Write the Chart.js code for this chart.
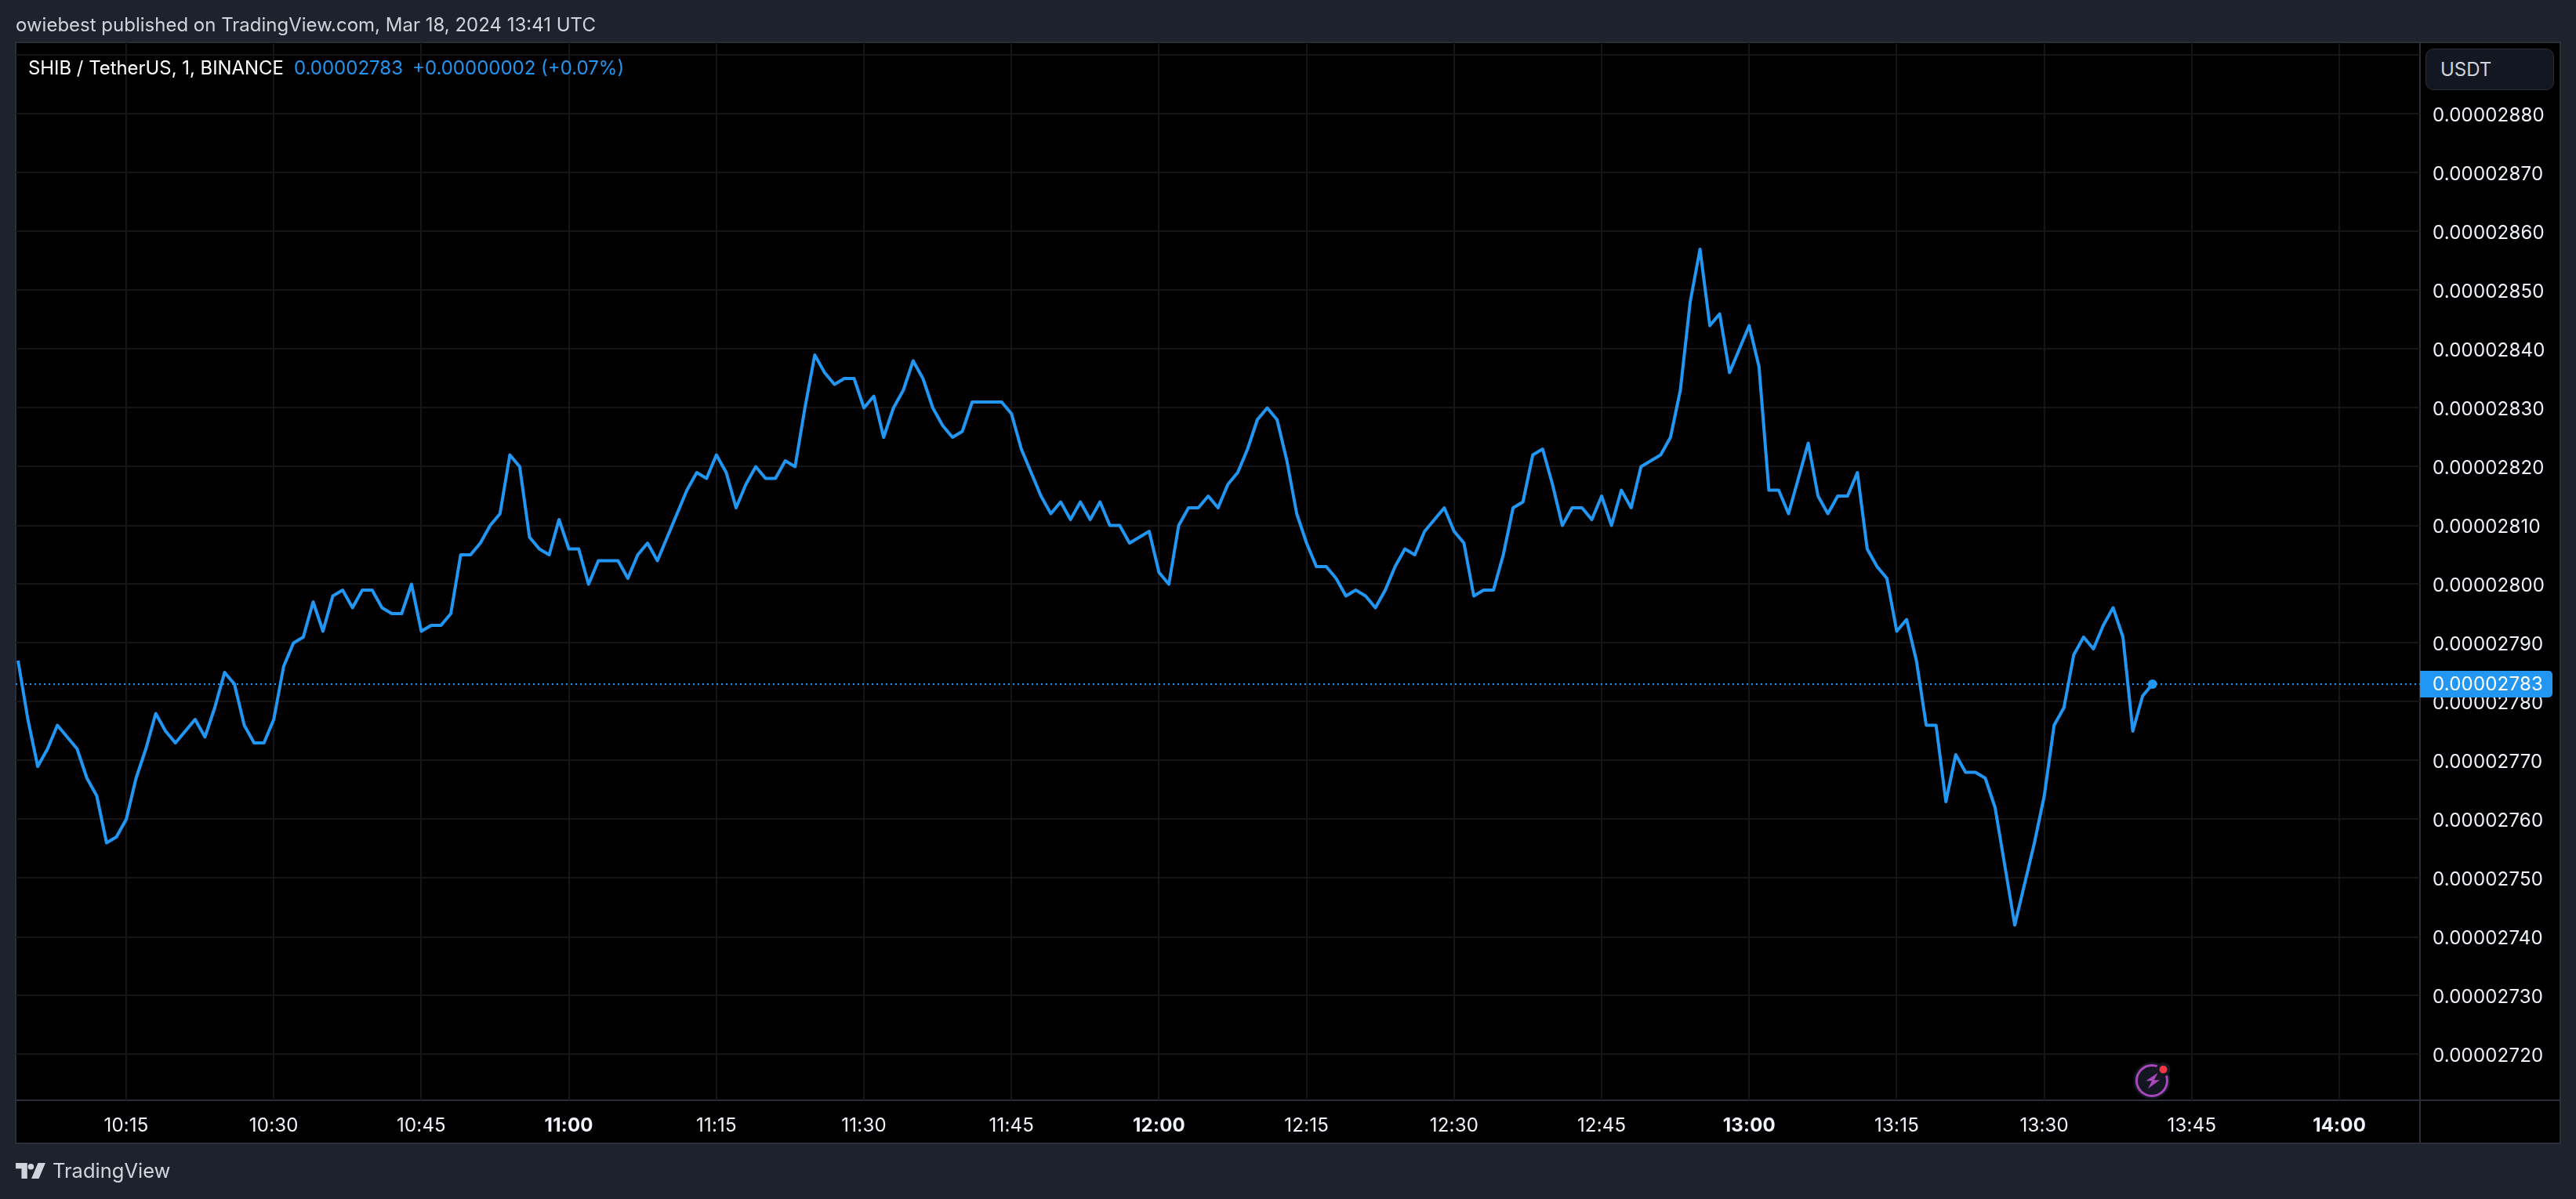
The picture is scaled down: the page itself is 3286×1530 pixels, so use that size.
<!DOCTYPE html>
<html>
<head>
<meta charset="utf-8">
<title>SHIB / TetherUS</title>
<script src="https://cdn.jsdelivr.net/npm/chart.js@4"></script>
<style>
  html, body { margin: 0; padding: 0; background: #1e222d; overflow: hidden; }
  #wrap { position: relative; width: 3286px; height: 1530px; font-family: Inter, sans-serif; }
  #wrap canvas { position: absolute; left: 0; top: 0; }
  .txt { position: absolute; white-space: pre; line-height: 32px; }
  #usdt { position: absolute; left: 3094px; top: 62px; width: 164px; height: 53px; box-sizing: border-box;
          background: #131722; border: 1px solid #2a2e39; border-radius: 10px; color: #d1d4dc;
          font-size: 24px; line-height: 51px; padding-left: 18px; }
  svg { position: absolute; }
</style>
</head>
<body>
<div id="wrap">
  <canvas id="chart" width="3286" height="1530"></canvas>
  <div class="txt" style="left:20px;top:16px;font-size:24px;color:#d1d4dc">owiebest published on TradingView.com, Mar 18, 2024 13:41 UTC</div>
  <div class="txt" style="left:36px;top:71px;font-size:23.9px;color:#ffffff">SHIB / TetherUS, 1, BINANCE</div>
  <div class="txt" style="left:375px;top:71px;font-size:24px;color:#2196f3">0.00002783</div>
  <div class="txt" style="left:526px;top:71px;font-size:24px;color:#2196f3">+0.00000002 (+0.07%)</div>
  <div id="usdt">USDT</div>
  <svg style="left:20px;top:1484px" width="38" height="20" viewBox="0 0 36 19">
    <path fill="#d1d4dc" d="M0 0h14v19H7V7H0zM22 4.5a3.6 3.6 0 1 1-7.2 0 3.6 3.6 0 0 1 7.2 0zM27 0h9l-8 19h-9z"/>
  </svg>
  <div class="txt" style="left:67px;top:1478px;font-size:25.5px;font-weight:400;color:#d1d4dc">TradingView</div>
  <svg style="left:2720px;top:1352px" width="56" height="52" viewBox="0 0 56 52">
    <circle cx="25" cy="27" r="23.5" fill="#131722"/>
    <circle cx="25" cy="27" r="19.5" fill="none" stroke="#ab47bc" stroke-width="3"/>
    <path fill="#ab47bc" d="M32.7 17 17.3 27.3H25L20 37.3 35 26.3H27.7z"/>
    <circle cx="39.5" cy="12.7" r="9" fill="#131722"/>
    <circle cx="39.5" cy="12.7" r="5" fill="#f23645"/>
  </svg>
</div>
<script>
// minute bars, UTC
const times = [
  "10:04","10:05","10:06","10:07","10:08","10:09","10:10","10:11","10:12","10:13","10:14","10:15",
  "10:16","10:17","10:18","10:19","10:20","10:21","10:22","10:23","10:24","10:25","10:26","10:27","10:28","10:29","10:30",
  "10:31","10:32","10:33","10:34","10:35","10:36","10:37","10:38","10:39","10:40","10:41","10:42","10:43","10:44","10:45",
  "10:46","10:47","10:48","10:49","10:50","10:51","10:52","10:53","10:54","10:55","10:56","10:57","10:58","10:59","11:00",
  "11:01","11:02","11:03","11:04","11:05","11:06","11:07","11:08","11:09","11:10","11:11","11:12","11:13","11:14","11:15",
  "11:16","11:17","11:18","11:19","11:20","11:21","11:22","11:23","11:24","11:25","11:26","11:27","11:28","11:29","11:30",
  "11:31","11:32","11:33","11:34","11:35","11:36","11:37","11:38","11:39","11:40","11:41","11:42","11:43","11:44","11:45",
  "11:46","11:47","11:48","11:49","11:50","11:51","11:52","11:53","11:54","11:55","11:56","11:57","11:58","11:59","12:00",
  "12:01","12:02","12:03","12:04","12:05","12:06","12:07","12:08","12:09","12:10","12:11","12:12","12:13","12:14","12:15",
  "12:16","12:17","12:18","12:19","12:20","12:21","12:22","12:23","12:24","12:25","12:26","12:27","12:28","12:29","12:30",
  "12:31","12:32","12:33","12:34","12:35","12:36","12:37","12:38","12:39","12:40","12:41","12:42","12:43","12:44","12:45",
  "12:46","12:47","12:48","12:49","12:50","12:51","12:52","12:53","12:54","12:55","12:56","12:57","12:58","12:59","13:00",
  "13:01","13:02","13:03","13:04","13:05","13:06","13:07","13:08","13:09","13:10","13:11","13:12","13:13","13:14","13:15",
  "13:16","13:17","13:18","13:19","13:20","13:21","13:22","13:23","13:24","13:25","13:26","13:27","13:28","13:29","13:30",
  "13:31","13:32","13:33","13:34","13:35","13:36","13:37","13:38","13:39","13:40","13:41"
];

const closes = [
  0.00002787,0.00002777,0.00002769,0.00002772,0.00002776,0.00002774,0.00002772,0.00002767,0.00002764,0.00002756,0.00002757,0.00002760,
  0.00002767,0.00002772,0.00002778,0.00002775,0.00002773,0.00002775,0.00002777,0.00002774,0.00002779,0.00002785,0.00002783,0.00002776,0.00002773,0.00002773,0.00002777,
  0.00002786,0.00002790,0.00002791,0.00002797,0.00002792,0.00002798,0.00002799,0.00002796,0.00002799,0.00002799,0.00002796,0.00002795,0.00002795,0.00002800,0.00002792,
  0.00002793,0.00002793,0.00002795,0.00002805,0.00002805,0.00002807,0.00002810,0.00002812,0.00002822,0.00002820,0.00002808,0.00002806,0.00002805,0.00002811,0.00002806,
  0.00002806,0.00002800,0.00002804,0.00002804,0.00002804,0.00002801,0.00002805,0.00002807,0.00002804,0.00002808,0.00002812,0.00002816,0.00002819,0.00002818,0.00002822,
  0.00002819,0.00002813,0.00002817,0.00002820,0.00002818,0.00002818,0.00002821,0.00002820,0.00002830,0.00002839,0.00002836,0.00002834,0.00002835,0.00002835,0.00002830,
  0.00002832,0.00002825,0.00002830,0.00002833,0.00002838,0.00002835,0.00002830,0.00002827,0.00002825,0.00002826,0.00002831,0.00002831,0.00002831,0.00002831,0.00002829,
  0.00002823,0.00002819,0.00002815,0.00002812,0.00002814,0.00002811,0.00002814,0.00002811,0.00002814,0.00002810,0.00002810,0.00002807,0.00002808,0.00002809,0.00002802,
  0.00002800,0.00002810,0.00002813,0.00002813,0.00002815,0.00002813,0.00002817,0.00002819,0.00002823,0.00002828,0.00002830,0.00002828,0.00002821,0.00002812,0.00002807,
  0.00002803,0.00002803,0.00002801,0.00002798,0.00002799,0.00002798,0.00002796,0.00002799,0.00002803,0.00002806,0.00002805,0.00002809,0.00002811,0.00002813,0.00002809,
  0.00002807,0.00002798,0.00002799,0.00002799,0.00002805,0.00002813,0.00002814,0.00002822,0.00002823,0.00002817,0.00002810,0.00002813,0.00002813,0.00002811,0.00002815,
  0.00002810,0.00002816,0.00002813,0.00002820,0.00002821,0.00002822,0.00002825,0.00002833,0.00002848,0.00002857,0.00002844,0.00002846,0.00002836,0.00002840,0.00002844,
  0.00002837,0.00002816,0.00002816,0.00002812,0.00002818,0.00002824,0.00002815,0.00002812,0.00002815,0.00002815,0.00002819,0.00002806,0.00002803,0.00002801,0.00002792,
  0.00002794,0.00002787,0.00002776,0.00002776,0.00002763,0.00002771,0.00002768,0.00002768,0.00002767,0.00002762,0.00002752,0.00002742,0.00002749,0.00002756,0.00002764,
  0.00002776,0.00002779,0.00002788,0.00002791,0.00002789,0.00002793,0.00002796,0.00002791,0.00002775,0.00002781,0.00002783
];

const timeTickLabels = ["10:15","10:30","10:45","11:00","11:15","11:30","11:45","12:00","12:15","12:30","12:45","13:00","13:15","13:30","13:45","14:00"];
const boldTimeLabels = ["11:00","12:00","13:00","14:00"];

const priceTicks = [0.0000272,0.0000273,0.0000274,0.0000275,0.0000276,0.0000277,0.0000278,0.0000279,0.000028,0.0000281,0.0000282,0.0000283,0.0000284,0.0000285,0.0000286,0.0000287,0.0000288,0.0000289];
const priceTickLabels = ["0.00002720","0.00002730","0.00002740","0.00002750","0.00002760","0.00002770","0.00002780","0.00002790","0.00002800","0.00002810","0.00002820","0.00002830","0.00002840","0.00002850","0.00002860","0.00002870","0.00002880",""];

const lastPrice = 0.00002783;
const lastPriceLabel = "0.00002783";

const toMinutes = (t) => Number(t.slice(0, 2)) * 60 + Number(t.slice(3));

const axisMinute = [603.76, 848.2];
const axisPrice = [0.000027122, 0.000028922];

const blue = "#2196f3";
const textColor = "#f0f3fa";
const borderColor = "#2a2e39";
const gridColor = "#151515";
const tickFont = { family: "Inter", size: 24 };

// black pane with its frame, behind the scales
const panePlugin = {
  id: "pane",
  beforeDraw(chart) {
    const c = chart.ctx;
    const a = chart.chartArea;
    c.save();
    c.fillStyle = "#000000";
    c.fillRect(20, 54, 3246, 1405);
    c.strokeStyle = borderColor;
    c.lineWidth = 2;
    c.strokeRect(20, 54, 3246, 1405);
    c.beginPath();
    c.moveTo(a.right, 54);
    c.lineTo(a.right, 1459);
    c.moveTo(20, a.bottom);
    c.lineTo(3266, a.bottom);
    c.stroke();
    c.restore();
    c.letterSpacing = "0.2px";
  }
};

// last price tag on the right axis
const priceTagPlugin = {
  id: "priceTag",
  afterDraw(chart) {
    const c = chart.ctx;
    const y = chart.scales.y.getPixelForValue(lastPrice);
    c.save();
    c.fillStyle = blue;
    c.beginPath();
    c.roundRect(chart.chartArea.right, y - 17, 169, 34, [0, 5, 5, 0]);
    c.fill();
    c.fillStyle = "#ffffff";
    c.font = "24px Inter";
    c.textBaseline = "middle";
    c.fillText(lastPriceLabel, 3103, y + 1);
    c.restore();
  }
};

new Chart(document.getElementById("chart"), {
  type: "line",
  data: {
    datasets: [
      {
        data: closes.map((p, i) => ({ x: toMinutes(times[i]), y: p })),
        borderColor: blue,
        borderWidth: 4,
        borderJoinStyle: "round",
        tension: 0,
        pointRadius: (ctx) => (ctx.dataIndex === closes.length - 1 ? 6 : 0),
        pointBackgroundColor: blue,
        pointBorderWidth: 0,
        order: 1
      },
      {
        data: [{ x: axisMinute[0], y: lastPrice }, { x: axisMinute[1], y: lastPrice }],
        borderColor: blue,
        borderWidth: 2,
        borderDash: [2, 4],
        pointRadius: 0,
        order: 2
      }
    ]
  },
  options: {
    responsive: false,
    animation: false,
    layout: { padding: { left: 20, top: 54, right: 20, bottom: 71 } },
    plugins: { legend: { display: false }, tooltip: { enabled: false } },
    scales: {
      x: {
        type: "linear",
        min: axisMinute[0],
        max: axisMinute[1],
        afterBuildTicks: (s) => { s.ticks = timeTickLabels.map((t) => ({ value: toMinutes(t) })); },
        afterFit: (s) => { s.height = 55; },
        grid: { color: gridColor, lineWidth: 2, drawTicks: false },
        border: { display: false },
        ticks: {
          autoSkip: false,
          maxRotation: 0,
          padding: 18,
          color: textColor,
          font: (ctx) => ({
            ...tickFont,
            weight: boldTimeLabels.includes(timeTickLabels[ctx.index]) ? "bold" : "normal"
          }),
          callback: (v, i) => timeTickLabels[i]
        }
      },
      y: {
        position: "right",
        min: axisPrice[0],
        max: axisPrice[1],
        afterBuildTicks: (s) => { s.ticks = priceTicks.map((v) => ({ value: v })); },
        afterFit: (s) => { s.width = 179; },
        grid: { color: gridColor, lineWidth: 2, drawTicks: false },
        border: { display: false },
        ticks: {
          autoSkip: false,
          padding: 16,
          labelOffset: 2,
          color: textColor,
          font: tickFont,
          callback: (v, i) => priceTickLabels[i]
        }
      }
    }
  },
  plugins: [panePlugin, priceTagPlugin]
});
</script>
</body>
</html>
